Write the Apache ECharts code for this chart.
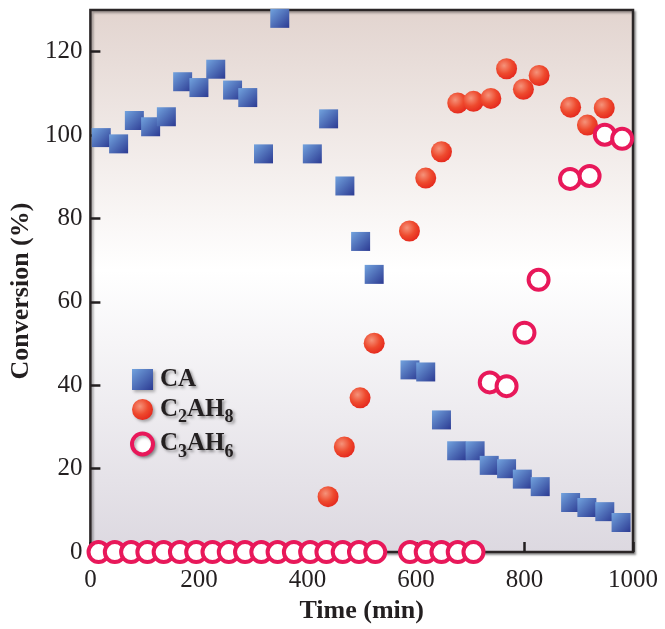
<!DOCTYPE html>
<html>
<head>
<meta charset="utf-8">
<script src="https://cdn.jsdelivr.net/npm/echarts@6/dist/echarts.min.js"></script>
<style>html,body{margin:0;padding:0;background:#fff;}#c{width:665px;height:629px;}</style>
</head>
<body>
<div id="c"></div>
<script>
// ---- data ----
const caTime = [20,52,81,111,140,170,200,231,262,290,319,349,409,439,469,498,523,589,618,647,675,709,735,767,796,829,885,915,948,978];
const caValue = [99.4,97.9,103.5,102,104.4,112.8,111.4,115.8,110.8,109,95.5,128,95.5,103.9,87.8,74.5,66.6,43.7,43.2,31.7,24.3,24.3,20.8,20,17.5,15.7,11.9,10.7,9.7,7.1];

const c2Time = [438,468,497,523,588,618,647,677,706,738,767,798,827,885,916,947];
const c2Value = [13.3,25.2,37,50.1,77,89.7,96,107.7,108.1,108.8,115.9,111,114.3,106.7,102.4,106.5];

const c3Time = [15,45,75,105,135,165,195,225,255,285,315,345,375,405,435,465,495,525,589,618,647,677,706,736,767,800,826,884,920,948,980];
const c3Value = [0,0,0,0,0,0,0,0,0,0,0,0,0,0,0,0,0,0,0,0,0,0,0,40.7,39.8,52.6,65.3,89.5,90.2,100.1,99.1];

const seriesNames = ['CA','C2AH8','C3AH6'];
const xTicks = [0,200,400,600,800,1000];
const yTicks = [0,20,40,60,80,100,120];

function pairs(xs, ys){ return xs.map((x,i)=>[x, ys[i]]); }

const dark = '#231f20';
const serif = '"Liberation Serif","Times New Roman",serif';

const sqGrad = new echarts.graphic.LinearGradient(0,0,1,1,[
  {offset:0,color:'#72a3de'},{offset:1,color:'#2c3a92'}]);
const redGrad = new echarts.graphic.RadialGradient(0.38,0.35,0.7,[
  {offset:0,color:'#f5937a'},{offset:0.55,color:'#ee4a2e'},{offset:1,color:'#e4261c'}]);
const pink = '#e8185a';

const shadowTxt = {textShadowColor:'rgba(0,0,0,0.4)',textShadowBlur:3,textShadowOffsetX:2,textShadowOffsetY:2};
const iconShadow = {shadowColor:'rgba(0,0,0,0.3)', shadowBlur:3, shadowOffsetX:2, shadowOffsetY:2};

const chart = echarts.init(document.getElementById('c'), null, {renderer:'canvas'});
chart.setOption({
  animation:false,
  backgroundColor:'#ffffff',
  grid:{
    left:86, right:32, top:10, bottom:74,
    show:true,
    borderColor:'#2b2627', borderWidth:2.5,
    backgroundColor:new echarts.graphic.LinearGradient(0,0,0,1,[
      {offset:0,color:'#e2d4cf'},{offset:0.48,color:'#ffffff'},{offset:1,color:'#dcd8e0'}]),
    shadowColor:'rgba(0,0,0,0.3)', shadowBlur:2, shadowOffsetX:2, shadowOffsetY:2
  },
  legend:{
    orient:'vertical', left:125, top:362, itemGap:5,
    itemWidth:21, itemHeight:21,
    data:[
      {name:'CA', icon:'rect', itemStyle:Object.assign({color:sqGrad, borderWidth:0}, iconShadow)},
      {name:'C2AH8', icon:'circle', itemStyle:Object.assign({color:redGrad, borderWidth:0}, iconShadow)},
      {name:'C3AH6', icon:'circle', itemStyle:Object.assign({color:'#ffffff', borderColor:pink, borderWidth:4}, iconShadow)}
    ],
    formatter:function(n){
      if(n==='CA') return '{m|CA}';
      if(n==='C2AH8') return '{m|C}{s|2}{m|AH}{s|8}';
      return '{m|C}{s|3}{m|AH}{s|6}';
    },
    textStyle:Object.assign({
      fontFamily:serif, fontWeight:'bold', fontSize:25, color:dark, padding:[0,0,0,2],
      rich:{
        m:Object.assign({fontFamily:serif, fontWeight:'bold', fontSize:25, color:dark, lineHeight:26}, shadowTxt),
        s:Object.assign({fontFamily:serif, fontWeight:'bold', fontSize:18, color:dark, lineHeight:18, verticalAlign:'bottom', padding:[0,0,-4,0]}, shadowTxt)
      }
    }, shadowTxt)
  },
  xAxis:{
    type:'value', min:0, max:1000, interval:200,
    name:'Time (min)', nameLocation:'middle', nameGap:42,
    nameTextStyle:{fontFamily:serif, fontWeight:'bold', fontSize:26, color:dark},
    axisLine:{show:false},
    axisTick:{show:true, inside:true, length:10, lineStyle:{color:dark, width:2.5}},
    axisLabel:{fontFamily:serif, fontSize:25, color:dark, margin:16,
      formatter:function(v){ return xTicks.indexOf(v)>=0 ? String(v) : ''; }},
    splitLine:{show:false}
  },
  yAxis:{
    type:'value', min:0, max:130, interval:20,
    name:'Conversion (%)', nameLocation:'middle', nameGap:50, nameRotate:90,
    nameTextStyle:{fontFamily:serif, fontWeight:'bold', fontSize:26, color:dark, padding:[0,20,0,0]},
    axisLine:{show:false},
    axisTick:{show:true, inside:true, length:10, lineStyle:{color:dark, width:2.5}},
    axisLabel:{fontFamily:serif, fontSize:25, color:dark, margin:8, showMaxLabel:false,
      formatter:function(v){ return yTicks.indexOf(v)>=0 ? String(v) : ''; }},
    splitLine:{show:false}
  },
  series:[
    {name:seriesNames[0], type:'scatter', symbol:'rect', symbolSize:19, data:pairs(caTime,caValue),
     itemStyle:{color:sqGrad, opacity:1}},
    {name:seriesNames[1], type:'scatter', symbol:'circle', symbolSize:21, data:pairs(c2Time,c2Value),
     itemStyle:{color:redGrad, opacity:1}},
    {name:seriesNames[2], type:'scatter', symbol:'circle', symbolSize:20, data:pairs(c3Time,c3Value),
     itemStyle:{color:'#ffffff', borderColor:pink, borderWidth:4, opacity:1}}
  ]
});
</script>
</body>
</html>
